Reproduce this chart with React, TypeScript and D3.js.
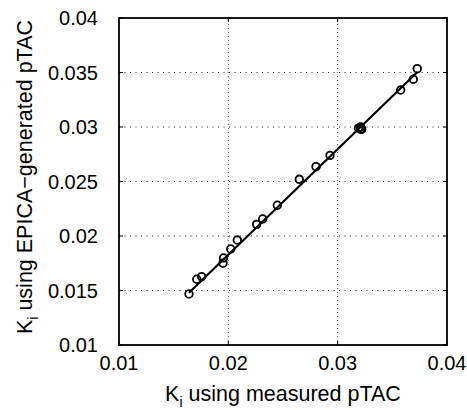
import React from "react";
import * as d3 from "d3";

const measuredKi = [0.0164, 0.01711, 0.01756, 0.01951, 0.01956, 0.02022, 0.02082, 0.02259, 0.02314, 0.02448, 0.02649, 0.02802, 0.0293, 0.0319, 0.0321, 0.0322, 0.0321, 0.03576, 0.03692, 0.03728];
const epicaKi = [0.01468, 0.01603, 0.01627, 0.0175, 0.01798, 0.01881, 0.01963, 0.02107, 0.02156, 0.02282, 0.0252, 0.02636, 0.0274, 0.0299, 0.0300, 0.0298, 0.0298, 0.03339, 0.03438, 0.03535];
const fitX = [0.0164, 0.0373];
const fitY = [0.0148, 0.03505];
const xTicks = [0.01, 0.02, 0.03, 0.04];
const yTicks = [0.01, 0.015, 0.02, 0.025, 0.03, 0.035, 0.04];
const xTickLabels = ["0.01", "0.02", "0.03", "0.04"];
const yTickLabels = ["0.01", "0.015", "0.02", "0.025", "0.03", "0.035", "0.04"];

const W = 467, H = 410;
const L = 119, R = 447, T = 18, B = 345;
const FONT = "'Liberation Sans', Arial, Helvetica, sans-serif";

export default function App() {
  const x = d3.scaleLinear().domain([0.01, 0.04]).range([L, R]);
  const y = d3.scaleLinear().domain([0.01, 0.04]).range([B, T]);
  const line = d3.line<number>().x((d, i) => x(fitX[i])).y((d, i) => y(fitY[i]));
  return (
    <svg width={W} height={H} style={{ position: "absolute", left: 0, top: 0, background: "#fff" }} fontFamily={FONT}>
      <rect x={0} y={0} width={W} height={H} fill="#fff" />
      {xTicks.slice(1, -1).map((t) => (
        <line key={"gx" + t} x1={x(t)} x2={x(t)} y1={B} y2={T} stroke="#555" strokeWidth={1} strokeDasharray="1 3" />
      ))}
      {yTicks.slice(1, -1).map((t) => (
        <line key={"gy" + t} x1={L} x2={R} y1={y(t)} y2={y(t)} stroke="#222" strokeWidth={1} strokeDasharray="1 4.5" />
      ))}
      {xTicks.map((t) => (
        <g key={"tx" + t}>
          <line x1={x(t)} x2={x(t)} y1={B} y2={B - 4} stroke="#000" strokeWidth={1} />
          <line x1={x(t)} x2={x(t)} y1={T} y2={T + 4} stroke="#000" strokeWidth={1} />
        </g>
      ))}
      {yTicks.map((t) => (
        <g key={"ty" + t}>
          <line x1={L} x2={L + 4} y1={y(t)} y2={y(t)} stroke="#000" strokeWidth={1} />
          <line x1={R} x2={R - 4} y1={y(t)} y2={y(t)} stroke="#000" strokeWidth={1} />
        </g>
      ))}
      <rect x={L} y={T} width={R - L} height={B - T} fill="none" stroke="#000" strokeWidth={1.8} />
      <path d={line(fitX) || ""} fill="none" stroke="#000" strokeWidth={2.2} />
      {measuredKi.map((v, i) => (
        <circle key={"p" + i} cx={x(v)} cy={y(epicaKi[i])} r={3.8} fill="none" stroke="#000" strokeWidth={1.8} />
      ))}
      {xTicks.map((t, i) => (
        <text key={"xl" + t} x={x(t)} y={370} textAnchor="middle" fontSize={20}>{xTickLabels[i]}</text>
      ))}
      {yTicks.map((t, i) => (
        <text key={"yl" + t} x={98} y={y(t) + 7} textAnchor="end" fontSize={20}>{yTickLabels[i]}</text>
      ))}
      <text x={(L + R) / 2} y={401} textAnchor="middle" fontSize={21.5}>
        K<tspan fontSize={14} dy={6}>i</tspan><tspan dy={-6}> using measured pTAC</tspan>
      </text>
      <text transform={`translate(32,177) rotate(-90)`} textAnchor="middle" fontSize={21.5}>
        K<tspan fontSize={14} dy={6}>i</tspan><tspan dy={-6}> using EPICA−generated pTAC</tspan>
      </text>
    </svg>
  );
}
